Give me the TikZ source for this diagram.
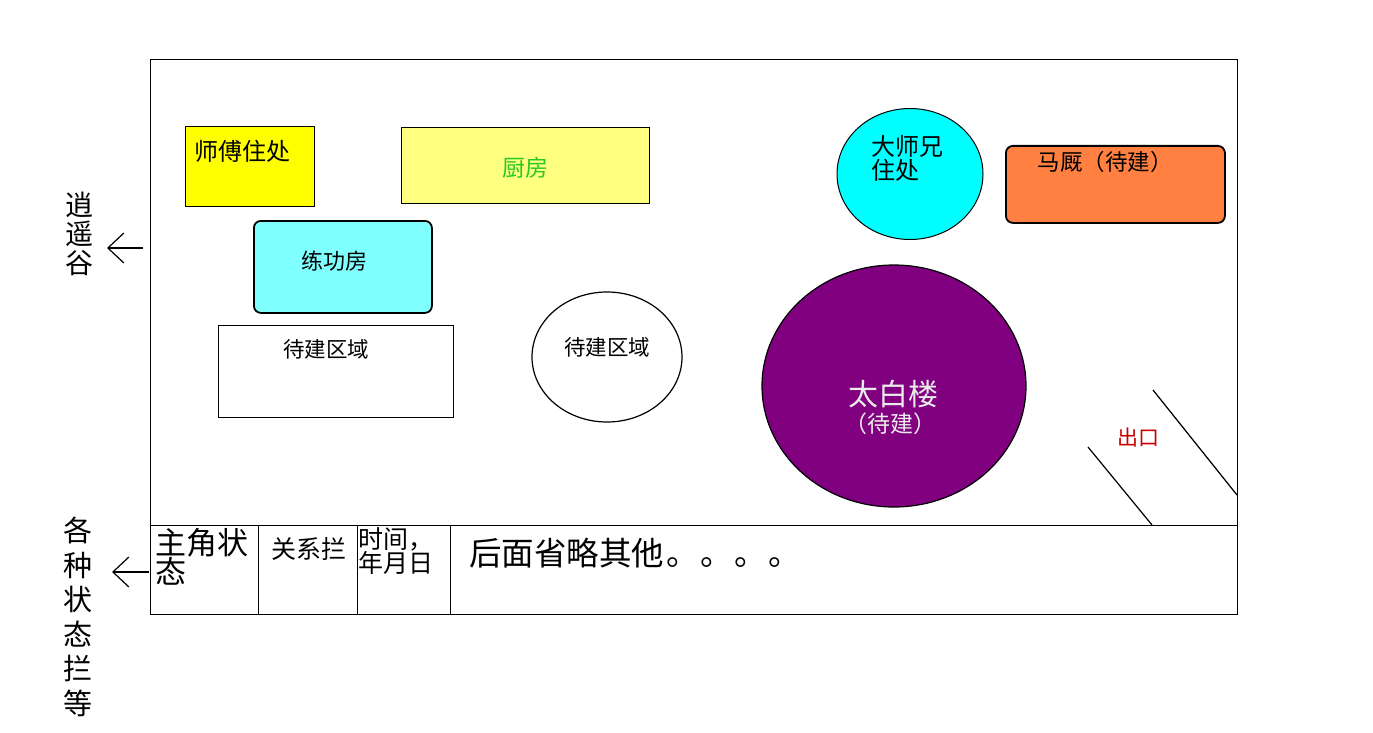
\documentclass[tikz,border=0pt]{standalone}
\usepackage{fontspec}
\newfontfamily\cjk{Noto Sans CJK SC}
\usetikzlibrary{arrows.meta,shapes.geometric}
\definecolor{kyellow}{RGB}{255,255,0}
\definecolor{lyellow}{RGB}{255,255,128}
\definecolor{lcyan}{RGB}{128,255,255}
\definecolor{kcyan}{RGB}{0,255,255}
\definecolor{orng}{RGB}{255,128,64}
\definecolor{purp}{RGB}{128,0,128}
\definecolor{kgreen}{RGB}{40,200,40}
\definecolor{ered}{RGB}{200,0,0}
\tikzset{
  box/.style={draw, line width=1.2pt, inner sep=0pt, anchor=north west},
  rbox/.style={box, rounded corners=7pt, line width=1.8pt},
  oval/.style={ellipse, draw, line width=1.2pt, inner sep=0pt},
  lbl/.style={inner sep=0pt},
  fs/.style={font=\cjk\fontsize{#1}{#1}\selectfont},
  barb/.style={-{Straight Barb[length=16pt,width=30pt,line width=1.2pt]}, line width=1.6pt}
}
\begin{document}
\begin{tikzpicture}[x=1pt,y=-1pt]
\useasboundingbox (0,0) rectangle (1373,733);
\fill[white] (0,0) rectangle (1373,733);
% frame
\node[draw, line width=1pt, inner sep=0pt, minimum width=1087pt, minimum height=555pt, anchor=north west] (frame) at (150,59) {};
\coordinate (sbL) at (150,525);
\coordinate (sbR) at (1237,525);
\draw[line width=1pt] (sbL) -- (sbR);
\foreach \x in {258,357,450} \draw[line width=1pt] (\x,525) -- (\x,614);
% rooms
\node[box, fill=kyellow, minimum width=129pt, minimum height=80pt] (shifu) at (185,126) {};
\node[lbl, fs=24, anchor=west] (shifuT) at (194,151) {师傅住处};
\node[box, fill=lyellow, minimum width=248pt, minimum height=76pt, line width=1pt] (chufang) at (401,127) {};
\node[lbl, fs=23, text=kgreen] (chufangT) at (525,168) {厨房};
\node[rbox, fill=lcyan, minimum width=178pt, minimum height=92pt] (liangong) at (253,220) {};
\node[lbl, fs=22] (liangongT) at (334,261) {练功房};
\node[box, fill=white, minimum width=235pt, minimum height=92pt] (daijian1) at (218,325) {};
\node[lbl, fs=21.5] (daijian1T) at (326,349) {待建区域};
\node[oval, fill=white, minimum width=150pt, minimum height=130pt] (daijian2) at (607,357) {};
\node[lbl, fs=21.5] (daijian2T) at (607,347) {待建区域};
\node[oval, fill=kcyan, minimum width=146pt, minimum height=131pt, line width=1pt] (dashixiong) at (910,174) {};
\node[lbl, align=left, anchor=north west, font=\cjk\fontsize{24}{24}\selectfont] (dashixiongT) at (871,135) {大师兄\\住处};
\node[rbox, fill=orng, minimum width=219pt, minimum height=77pt] (majiu) at (1005,145) {};
\node[lbl, fs=22.5] (majiuT) at (1105,162) {马厩（待建）};
\node[oval, fill=purp, minimum width=264pt, minimum height=242pt, line width=1.2pt] (taibai) at (894,386) {};
\node[lbl, fs=30, text=white!92!black] (taibaiT) at (893,394) {太白楼};
\node[lbl, fs=23, text=white!92!black] (taibaiT2) at (890,424) {（待建）};
% exit
\node[lbl, fs=21, text=ered] (exitT) at (1138,438) {出口};
\coordinate (e1a) at (1088,447);
\coordinate (e1b) at (1152,525);
\coordinate (e2a) at (1153,390);
\coordinate (e2b) at (1237,495);
\draw[line width=1.2pt] (e1a) -- (e1b);
\draw[line width=1.2pt] (e2a) -- (e2b);
% status bar texts
\node[lbl, align=left, anchor=north west, font=\cjk\fontsize{31}{29}\selectfont] (zhujue) at (155,528) {主角状\\态};
\node[lbl, fs=25, anchor=west] (guanxi) at (271,549) {关系拦};
\node[lbl, align=left, anchor=north west, font=\cjk\fontsize{25}{24}\selectfont] (shijian) at (358,527) {时间，\\年月日};
\node[lbl, fs=32.5, anchor=west] (houmian) at (469,553) {后面省略其他\hspace{2pt}。\hspace{1.5pt}。\hspace{1.5pt}。\hspace{1.5pt}。};
% side labels
\node[lbl, align=center, font=\cjk\fontsize{28}{29}\selectfont] (xiaoyao) at (79,234) {逍\\遥\\谷};
\node[lbl, align=center, font=\cjk\fontsize{29}{34.5}\selectfont] (gezhong) at (78,617) {各\\种\\状\\态\\拦\\等};
\coordinate (a1s) at (143,248);
\coordinate (a1e) at (107,248);
\coordinate (a2s) at (149,572);
\coordinate (a2e) at (112,572);
\draw[barb, line width=1.2pt] (a1s) -- (a1e);
\draw[barb] (a2s) -- (a2e);
\end{tikzpicture}
\end{document}
